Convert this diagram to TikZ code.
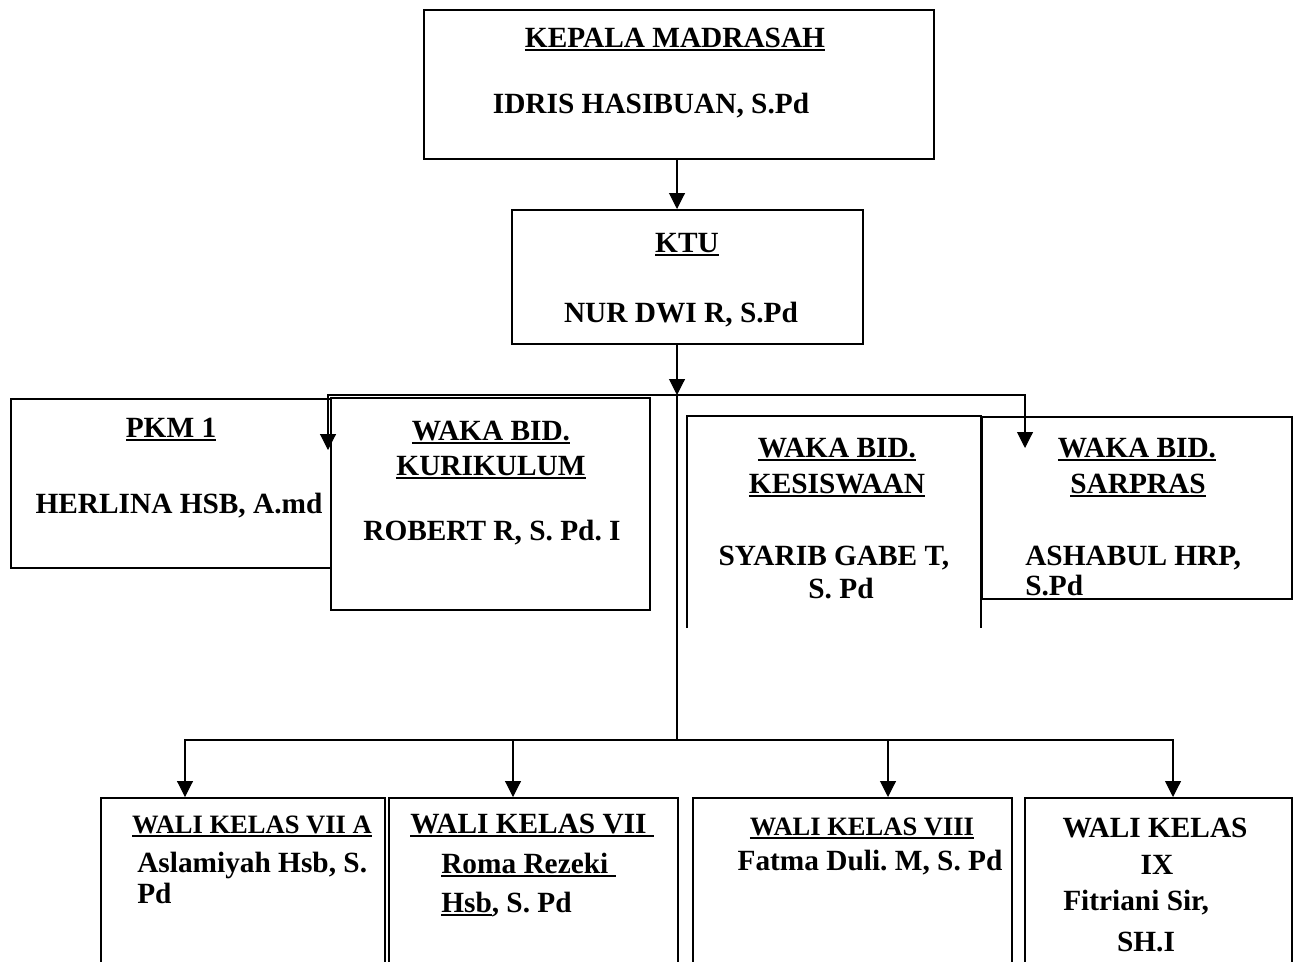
\documentclass[tikz,border=0pt]{standalone}
\usepackage{fontspec}
\setmainfont{Liberation Serif}
\usetikzlibrary{positioning, arrows.meta}
\frenchspacing

\newcommand{\ulin}[1]{\setbox0=\hbox{#1}\rlap{\rule[-3.2pt]{\wd0}{1.4pt}}\box0}

\begin{document}
\begin{tikzpicture}[x=0.75pt, y=-0.75pt,
  box/.style={draw, line width=1.2pt, inner sep=0pt, anchor=north west},
  txt/.style={font=\bfseries\fontsize{22}{26}\selectfont, inner sep=0pt, anchor=base},
  txtl/.style={txt, anchor=base west},
  smalltxt/.style={txt, font=\bfseries\fontsize{19.9}{24}\selectfont},
  conn/.style={line width=0.8pt},
  arr/.style={conn, -{Triangle[width=12pt,length=12pt]}}]
\clip (0,0) rectangle (1302,961);

% boxes
\node[box, minimum width=382.5pt, minimum height=111.75pt] (ks) at (423,9) {};
\node[box, minimum width=263.25pt, minimum height=100.5pt] (ktu) at (511,209) {};
\node[box, minimum width=240pt, minimum height=126.75pt] (pkm) at (10,398) {};
\node[box, minimum width=239.25pt, minimum height=159pt] (kur) at (330,397) {};
\node[box, minimum width=232.5pt, minimum height=136.5pt] (sar) at (981,416) {};
\draw[line width=1.2pt] (687,628) -- (687,416) -- (981,416) -- (981,628);

\node[box, minimum width=213pt, minimum height=152.25pt] (wk1) at (100,797) {};
\node[box, minimum width=216.75pt, minimum height=152.25pt] (wk2) at (388,797) {};
\node[box, minimum width=239.25pt, minimum height=152.25pt] (wk3) at (692,797) {};
\node[box, minimum width=200.25pt, minimum height=152.25pt] (wk4) at (1024,797) {};

% texts
\node[txt] (ks1) at (675,47) {\ulin{KEPALA MADRASAH}};
\node[txt] (ks2) at (651,113) {IDRIS HASIBUAN, S.Pd};
\node[txt] (ktu1) at (687,252) {\ulin{KTU}};
\node[txt] (ktu2) at (681,322) {NUR DWI R, S.Pd};
\node[txt] (pkm1) at (171,437) {\ulin{PKM 1}};
\node[txt] (pkm2) at (179,513) {HERLINA HSB, A.md};
\node[txt] (kur1) at (491,440) {\ulin{WAKA BID.}};
\node[txt] (kur2) at (491,475) {\ulin{KURIKULUM}};
\node[txt] (kur3) at (492,540) {ROBERT R, S. Pd. I};
\node[txt] (kes1) at (837,457) {\ulin{WAKA BID.}};
\node[txt] (kes2) at (837,493) {\ulin{KESISWAAN}};
\node[txt] (kes3) at (834,565) {SYARIB GABE T,};
\node[txt] (kes4) at (841,598) {S. Pd};
\node[txt] (sar1) at (1137,457) {\ulin{WAKA BID.}};
\node[txt] (sar2) at (1138,493) {\ulin{SARPRAS}};
\node[txtl] (sar3) at (1025,565) {ASHABUL HRP,};
\node[txtl] (sar4) at (1025,595) {S.Pd};

\node[smalltxt] (wk11) at (252,833) {\ulin{WALI KELAS VII A}};
\node[txtl] (wk12) at (137,872) {Aslamiyah Hsb, S.};
\node[txtl] (wk13) at (137,903) {Pd};
\node[txtl] (wk21) at (410,833) {\ulin{WALI KELAS VII\ }};
\node[txtl] (wk22) at (441,873) {\ulin{Roma Rezeki\ }};
\node[txtl] (wk23) at (441,912) {\ulin{Hsb}, S. Pd};
\node[smalltxt] (wk31) at (862,835) {\ulin{WALI KELAS VIII}};
\node[txt] (wk32) at (870,870) {Fatma Duli. M, S. Pd};
\node[txt] (wk41) at (1155,837) {WALI KELAS};
\node[txt] (wk42) at (1157,874) {IX};
\node[txtl] (wk43) at (1063,910) {Fitriani Sir,};
\node[txt] (wk44) at (1146,951) {SH.I};

% connectors
\coordinate (t1) at (677,395);
\coordinate (t2) at (677,740);
\coordinate (kurin) at (328,450);
\coordinate (sarin) at (1025,448);

\draw[arr] (ks.south -| t1) -- (ktu.north -| t1);
\draw[arr] (ktu.south -| t1) -- (t1);
\draw[conn] (t1) -- (t2);
\draw[arr] (t1) -| (kurin);
\draw[arr] (t1) -| (sarin);

\draw[arr] (t2) -| ([xshift=63.75pt]wk1.north west);
\draw[arr] (t2) -| ([xshift=93.75pt]wk2.north west);
\draw[arr] (t2) -| ([xshift=147pt]wk3.north west);
\draw[arr] (t2) -| ([xshift=111.75pt]wk4.north west);
\end{tikzpicture}
\end{document}
